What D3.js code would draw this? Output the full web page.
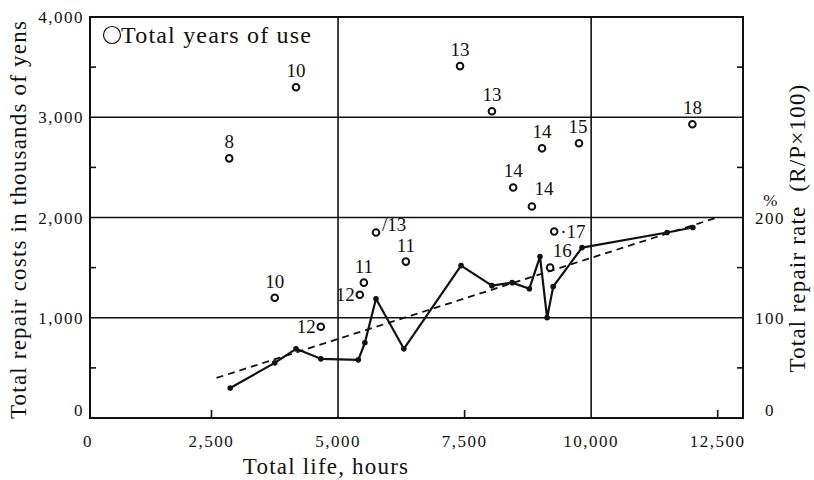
<!DOCTYPE html>
<meta charset="utf-8">
<style>
    body { margin: 0; background: #fff; }
    text { font-family: "Liberation Serif", "DejaVu Serif", serif; fill: #111; }
    .tick-label { font-size: 17px; letter-spacing: 1.5px; }
    .title { font-size: 23px; letter-spacing: 1.2px; }
    .year { font-size: 19px; }
    .grid { stroke: #111; stroke-width: 1.6px; }
</style>
<body>
<script src="https://cdn.jsdelivr.net/npm/d3@7"></script>
<script>
// scatter: total life (hours) vs total repair cost (thousand yen), labelled by years of use
var costHours = [2850, 4170, 7410, 8040, 12000, 9030, 9760, 8460, 8830, 9270, 5750, 6340, 3750, 5510, 5430, 4660, 9190];
var costValues = [2590, 3300, 3510, 3060, 2930, 2690, 2740, 2300, 2110, 1860, 1850, 1560, 1200, 1350, 1230, 910, 1500];
var yearsOfUse = [8, 10, 13, 13, 18, 14, 15, 14, 14, 17, 13, 11, 10, 11, 12, 12, 16];

// repair rate line (%)
var rateHours = [2870, 3750, 4170, 4660, 5400, 5530, 5750, 6300, 7430, 8040, 8440, 8780, 8990, 9130, 9250, 9820, 11500, 12010];
var rateValues = [30, 55, 69, 59, 58, 75, 119, 69, 152, 132, 135, 129, 161, 100, 131, 170, 185, 190];

// dashed trend line end points
var trendHours = [2600, 12490];
var trendRates = [40, 200];

var xTicks = [0, 2500, 5000, 7500, 10000, 12500];
var yTicks = [0, 1000, 2000, 3000, 4000];
var rTicks = [0, 100, 200];

// how each year label sits next to its circle
var labelPlace = ["up", "up", "up", "up", "up", "up", "upleft", "up", "upright", "right", "rightup", "up", "up", "up", "left", "left", "upright"];

var W = 814, H = 480;
var pLeft = 90, pRight = 743, pTop = 17, pBottom = 418;

var x = d3.scaleLinear().domain([100, 13000]).range([pLeft, pRight]);
var y = d3.scaleLinear().domain([0, 4000]).range([pBottom, pTop]);
var yr = d3.scaleLinear().domain([0, 400]).range([pBottom, pTop]);

var svg = d3.select("body").append("svg")
    .attr("width", W)
    .attr("height", H);

// grid lines
svg.selectAll(".hgrid").data([1000, 2000, 3000]).enter().append("line")
    .attr("class", "grid")
    .attr("x1", pLeft).attr("x2", pRight)
    .attr("y1", function(d) { return y(d); })
    .attr("y2", function(d) { return y(d); });
svg.selectAll(".vgrid").data([5000, 10000]).enter().append("line")
    .attr("class", "grid")
    .attr("x1", function(d) { return x(d); })
    .attr("x2", function(d) { return x(d); })
    .attr("y1", pTop).attr("y2", pBottom);

// frame
svg.append("rect")
    .attr("x", pLeft).attr("y", pTop)
    .attr("width", pRight - pLeft).attr("height", pBottom - pTop)
    .attr("fill", "none").attr("stroke", "#111").attr("stroke-width", 2);

// inner minor ticks
svg.selectAll(".ltick").data([500, 1500, 2500, 3500]).enter().append("line")
    .attr("stroke", "#111").attr("stroke-width", 1.6)
    .attr("x1", pLeft).attr("x2", pLeft + 6)
    .attr("y1", function(d) { return y(d); })
    .attr("y2", function(d) { return y(d); });
svg.selectAll(".rtick").data([500, 1500, 2500, 3500]).enter().append("line")
    .attr("stroke", "#111").attr("stroke-width", 1.6)
    .attr("x1", pRight - 6).attr("x2", pRight)
    .attr("y1", function(d) { return y(d); })
    .attr("y2", function(d) { return y(d); });
svg.selectAll(".btick").data([2500, 7500, 12500]).enter().append("line")
    .attr("stroke", "#111").attr("stroke-width", 1.6)
    .attr("x1", function(d) { return x(d); })
    .attr("x2", function(d) { return x(d); })
    .attr("y1", pBottom - 8).attr("y2", pBottom);

// tick labels
var fmt = d3.format(",");
svg.selectAll(".xl").data(xTicks).enter().append("text")
    .attr("class", "tick-label")
    .attr("x", function(d) { return d === 0 ? 88 : x(d); })
    .attr("y", 447)
    .attr("text-anchor", "middle")
    .text(function(d) { return fmt(d); });
svg.selectAll(".yl").data(yTicks).enter().append("text")
    .attr("class", "tick-label")
    .attr("x", 84)
    .attr("y", function(d) { return d === 0 ? y(d) - 2 : y(d) + 6; })
    .attr("text-anchor", "end")
    .text(function(d) { return fmt(d); });
svg.selectAll(".rl").data(rTicks).enter().append("text")
    .attr("class", "tick-label")
    .attr("x", 770)
    .attr("y", function(d) { return d === 0 ? yr(d) - 2 : yr(d) + 6; })
    .attr("text-anchor", "middle")
    .text(function(d) { return d; });
svg.append("text").attr("class", "tick-label")
    .attr("x", 771).attr("y", yr(200) - 12)
    .attr("text-anchor", "middle")
    .text("%");

// axis titles
svg.append("text").attr("class", "title")
    .attr("transform", "translate(26," + ((pTop + pBottom) / 2 + 2) + ") rotate(-90)")
    .attr("text-anchor", "middle")
    .text("Total repair costs in thousands of yens");
svg.append("text").attr("class", "title")
    .attr("transform", "translate(805,228) rotate(-90)")
    .attr("text-anchor", "middle")
    .attr("xml:space", "preserve")
    .text("Total repair rate  (R/P\u00d7100)");
svg.append("text").attr("class", "title")
    .attr("x", 326).attr("y", 474)
    .attr("text-anchor", "middle")
    .text("Total life, hours");

// legend
svg.append("circle")
    .attr("cx", 112).attr("cy", 35).attr("r", 8.5)
    .attr("fill", "none").attr("stroke", "#111").attr("stroke-width", 1.2);
svg.append("text")
    .attr("x", 121).attr("y", 43)
    .style("font-size", "24px")
    .style("letter-spacing", "1.2px")
    .text("Total years of use");

// dashed trend
svg.append("line")
    .attr("x1", x(trendHours[0])).attr("y1", yr(trendRates[0]))
    .attr("x2", x(trendHours[1])).attr("y2", yr(trendRates[1]))
    .attr("stroke", "#111").attr("stroke-width", 1.8)
    .attr("stroke-dasharray", "7,5");

// repair rate line
var rateData = rateHours.map(function(h, i) { return {h: h, r: rateValues[i]}; });
var rateLine = d3.line()
    .x(function(d) { return x(d.h); })
    .y(function(d) { return yr(d.r); });
svg.append("path")
    .datum(rateData)
    .attr("d", rateLine)
    .attr("fill", "none")
    .attr("stroke", "#111")
    .attr("stroke-width", 2.2)
    .attr("stroke-linejoin", "round");
svg.selectAll(".rdot").data(rateData).enter().append("circle")
    .attr("cx", function(d) { return x(d.h); })
    .attr("cy", function(d) { return yr(d.r); })
    .attr("r", 2.8)
    .attr("fill", "#111");

// cost scatter
var costData = costHours.map(function(h, i) {
    return {h: h, c: costValues[i], yrs: yearsOfUse[i], place: labelPlace[i]};
});
svg.selectAll(".cdot").data(costData).enter().append("circle")
    .attr("cx", function(d) { return x(d.h); })
    .attr("cy", function(d) { return y(d.c); })
    .attr("r", 3.3)
    .attr("fill", "#fff")
    .attr("stroke", "#111")
    .attr("stroke-width", 2);

var offsets = {
    up: [0, -10, "middle"],
    upleft: [-1, -10, "middle"],
    upright: [12, -11, "middle"],
    right: [6, 6, "start"],
    rightup: [6, -2, "start"],
    left: [-5, 6, "end"]
};
svg.selectAll(".ylab").data(costData).enter().append("text")
    .attr("class", "year")
    .attr("x", function(d) { return x(d.h) + offsets[d.place][0]; })
    .attr("y", function(d) { return y(d.c) + offsets[d.place][1]; })
    .attr("text-anchor", function(d) { return offsets[d.place][2]; })
    .text(function(d) {
        if (d.place === "rightup") return "/" + d.yrs;
        if (d.place === "right") return "\u00b7" + d.yrs;
        return d.yrs;
    });
</script>
</body>
